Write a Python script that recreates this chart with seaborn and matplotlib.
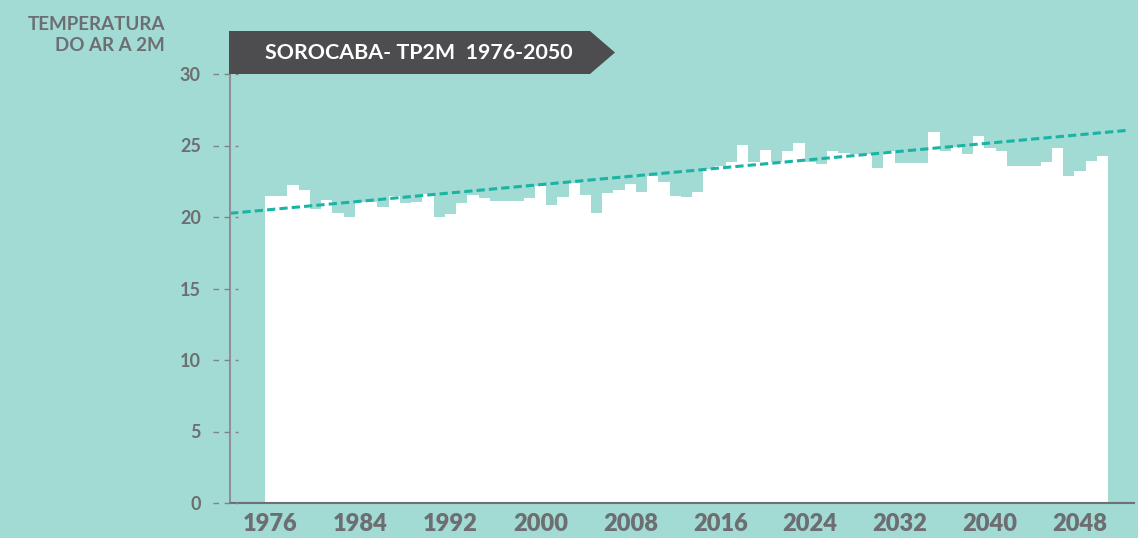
import numpy as np
import pandas as pd
import matplotlib
matplotlib.use("Agg")
import matplotlib.pyplot as plt
from matplotlib.patches import Polygon
import seaborn as sns

# Annual mean 2 m air temperature, Sorocaba (°C)
years = list(range(1976, 2051))
temperatures = [
    21.50, 21.50, 22.25, 21.90, 20.55, 21.20, 20.30, 20.00, 21.05, 21.05,  # 1976-1985
    20.70, 21.50, 20.95, 21.05, 21.60, 20.00, 20.20, 21.00, 21.55, 21.30,  # 1986-1995
    21.15, 21.15, 21.15, 21.30, 22.15, 20.85, 21.40, 22.40, 21.55, 20.30,  # 1996-2005
    21.70, 21.90, 22.30, 21.75, 22.90, 22.45, 21.50, 21.40, 21.75, 23.35,  # 2006-2015
    23.55, 23.85, 25.05, 23.85, 24.70, 23.85, 24.60, 25.20, 23.85, 23.70,  # 2016-2025
    24.65, 24.50, 24.40, 24.40, 23.40, 24.65, 23.80, 23.80, 23.80, 25.95,  # 2026-2035
    24.65, 24.90, 24.40, 25.65, 24.80, 24.65, 23.55, 23.55, 23.55, 23.85,  # 2036-2045
    24.80, 22.90, 23.20, 23.95, 24.25,                                     # 2046-2050
]
tick_years = list(range(1976, 2050, 8))
y_ticks = [0, 5, 10, 15, 20, 25, 30]

# Linear trend, given by its values at the first and last year
trend_first = 20.52
trend_last = 25.90

title = "SOROCABA- TP2M  1976-2050"
y_label = "TEMPERATURA\nDO AR A 2M"

BG = "#A2DAD4"
GRAY = "#6D6E71"
TREND = "#1AB4A4"
BANNER = "#4D4D4F"

W, H = 1138, 538

sns.set_theme(style="white")
plt.rcParams["font.family"] = ["Lato", "DejaVu Sans"]

fig = plt.figure(figsize=(W / 100, H / 100), dpi=100, facecolor=BG)
ax = fig.add_axes([230 / W, 35 / H, 904 / W, 429 / H])
ax.set_facecolor(BG)

df = pd.DataFrame({"year": years, "temp": temperatures})
sns.barplot(data=df, x="year", y="temp", color="white", saturation=1,
            width=1, linewidth=0, ax=ax, zorder=2)

x_lo, x_hi = -3.61, 76.8
ax.set_xlim(x_lo, x_hi)
ax.set_ylim(0, 30)

# Trend line across the plotting area
n = len(years) - 1
slope = (trend_last - trend_first) / n
tx = np.array([-3.6, 76.3])
ax.plot(tx, trend_first + slope * tx, color=TREND, lw=2.2,
        ls=(0, (2.7, 1.35)), zorder=4, solid_capstyle="butt")

# Axes styling
for side in ("top", "right"):
    ax.spines[side].set_visible(False)
ax.spines["left"].set_color("#8F9194")
ax.spines["left"].set_linewidth(1.5)
ax.spines["bottom"].set_color("#6F7073")
ax.spines["bottom"].set_linewidth(1.5)
ax.spines["left"].set_zorder(5)
ax.spines["bottom"].set_zorder(5)

ax.set_yticks(y_ticks)
ax.set_yticklabels([str(t) for t in y_ticks], fontsize=13, fontweight="bold", color=GRAY)
ax.tick_params(axis="y", length=0, pad=21)

ax.set_xticks([years.index(y) for y in tick_years])
ax.set_xticklabels([str(y) for y in tick_years], fontsize=17, fontweight="heavy", color=GRAY)
ax.tick_params(axis="x", length=0, pad=7)
ax.set_xlabel("")
ax.set_ylabel("")

# Dashed tick marks on the value axis
ax_w = 904
for t in y_ticks:
    ax.plot([-17 / ax_w, 8 / ax_w], [t, t], transform=ax.get_yaxis_transform(),
            color="#808285", lw=1.0, ls=(0, (4, 4)), clip_on=False, zorder=6)

# Title banner
pts = np.array([(229, 31), (590, 31), (615, 52.5), (590, 74), (229, 74)], dtype=float)
pts[:, 0] /= W
pts[:, 1] = 1 - pts[:, 1] / H
fig.add_artist(Polygon(pts, closed=True, facecolor=BANNER, edgecolor="none",
                       transform=fig.transFigure, zorder=10))
fig.text(419 / W, 1 - 53 / H, title, ha="center", va="center", color="white",
         fontsize=15.4, fontweight="bold", zorder=11)

fig.text(165 / W, 1 - 35 / H, y_label, ha="right", va="center", color=GRAY,
         fontsize=13.5, fontweight="bold", linespacing=1.25, multialignment="right")

fig.savefig("out.png", dpi=100, facecolor=BG)
